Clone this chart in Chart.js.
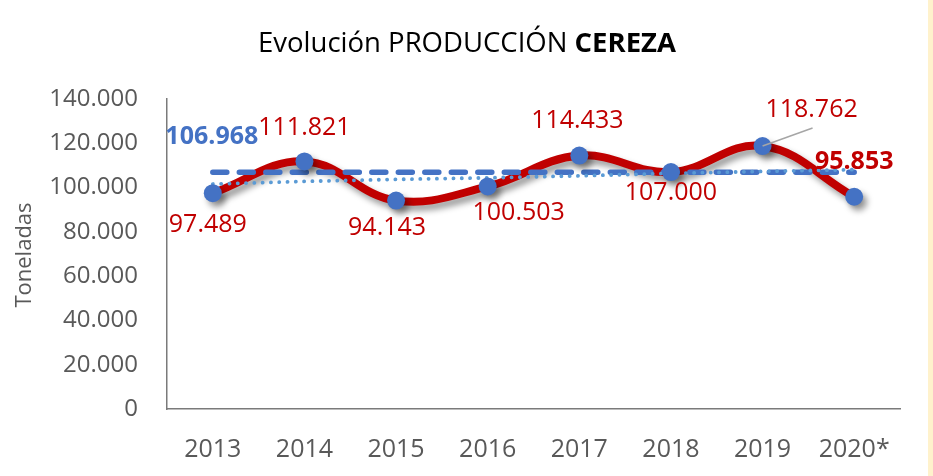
<!DOCTYPE html>
<html>
<head>
<meta charset="utf-8">
<title>Evolución producción cereza</title>
<script src="https://cdn.jsdelivr.net/npm/chart.js@4/dist/chart.umd.min.js"></script>
<style>
  body { margin: 0; background: #fff; }
  #wrap { position: relative; width: 933px; height: 476px; }
  #franja { position: absolute; left: 928px; top: 0; width: 5px; height: 476px; background: #fff2cc; }
</style>
</head>
<body>
<div id="wrap">
  <canvas id="grafico" width="928" height="476"></canvas>
  <div id="franja"></div>
</div>
<script>
// Años y toneladas producidas
const anios = ["2013", "2014", "2015", "2016", "2017", "2018", "2019", "2020*"];
const produccion = [97489, 111821, 94143, 100503, 114433, 107000, 118762, 95853];

// Promedio (línea discontinua) y tendencia (línea punteada)
const promedio = 106968;
const lineaPromedio = [106968, 106968, 106968, 106968, 106968, 106968, 106968, 106968];
const tendencia = [101600, 102800, 103700, 104400, 105300, 106400, 107300, 108100];

// Ticks del eje Y
const ticksY = [0, 20000, 40000, 60000, 80000, 100000, 120000, 140000];

// Desplazamiento de cada etiqueta respecto a su punto (px)
const desplazEtiquetas = [[-5, 30], [0, -35], [-9, 26], [31, 25], [-2, -37], [0, 19], [49, -38], [0, -37]];

const ROJO = "#C00000";
const AZUL = "#4472C4";
const AZUL_CLARO = "#5B9BD5";
const FUENTE = "'Open Sans', 'Noto Sans', sans-serif";

function formatoMiles(v) {
  return String(v).replace(/\B(?=(\d{3})+(?!\d))/g, ".");
}

// Sombra para la línea roja y los marcadores
const pluginSombra = {
  id: "sombra",
  beforeDatasetDraw(chart, args) {
    if (!args.meta._dataset.sombra) return;
    const ctx = chart.ctx;
    ctx.save();
    ctx.shadowColor = "rgba(0,0,0,0.4)";
    ctx.shadowBlur = 6;
    ctx.shadowOffsetX = 4;
    ctx.shadowOffsetY = 5;
  },
  afterDatasetDraw(chart, args) {
    if (!args.meta._dataset.sombra) return;
    chart.ctx.restore();
  }
};

// Título con la palabra CEREZA en negrita
const pluginTitulo = {
  id: "titulo",
  afterDraw(chart) {
    const ctx = chart.ctx;
    const parte1 = "Evolución PRODUCCIÓN ";
    const parte2 = "CEREZA";
    const t = 27.5;
    ctx.save();
    ctx.fillStyle = "#000";
    ctx.textBaseline = "alphabetic";
    ctx.font = t + "px " + FUENTE;
    const w1 = ctx.measureText(parte1).width;
    ctx.font = "bold " + t + "px " + FUENTE;
    const w2 = ctx.measureText(parte2).width;
    const x0 = 467 - (w1 + w2) / 2;
    ctx.font = t + "px " + FUENTE;
    ctx.fillText(parte1, x0, 52);
    ctx.font = "bold " + t + "px " + FUENTE;
    ctx.fillText(parte2, x0 + w1, 52);

    // Título del eje Y
    ctx.font = "22px " + FUENTE;
    ctx.fillStyle = "#595959";
    ctx.translate(25, 255);
    ctx.rotate(-Math.PI / 2);
    ctx.textAlign = "center";
    ctx.textBaseline = "middle";
    ctx.fillText("Toneladas", 0, 0);
    ctx.restore();
  }
};

// Etiquetas de valores, línea guía de 2019 y etiqueta del promedio
const pluginEtiquetas = {
  id: "etiquetas",
  afterDatasetsDraw(chart) {
    const ctx = chart.ctx;
    const puntos = chart.getDatasetMeta(3).data;
    const size = 25;
    ctx.save();
    ctx.textAlign = "center";
    ctx.textBaseline = "alphabetic";
    produccion.forEach((v, i) => {
      const p = puntos[i];
      const [dx, dy] = desplazEtiquetas[i];
      const ultimo = i === produccion.length - 1;
      ctx.font = (ultimo ? "bold " : "") + size + "px " + FUENTE;
      ctx.fillStyle = ROJO;
      ctx.fillText(formatoMiles(v), p.x + dx, p.y + dy + size * 0.357);
      if (i === 6) {
        ctx.strokeStyle = "#A6A6A6";
        ctx.lineWidth = 1.5;
        ctx.beginPath();
        ctx.moveTo(p.x, p.y);
        ctx.lineTo(p.x + dx + 1, p.y + dy + 20);
        ctx.stroke();
      }
    });
    const pm = chart.getDatasetMeta(1).data[0];
    ctx.font = "bold " + size + "px " + FUENTE;
    ctx.fillStyle = AZUL;
    ctx.fillText(formatoMiles(promedio), pm.x - 1, pm.y - 37 + size * 0.357);
    ctx.restore();
  }
};

new Chart(document.getElementById("grafico"), {
  type: "line",
  data: {
    labels: anios,
    datasets: [
      {
        label: "Producción",
        data: produccion,
        borderColor: ROJO,
        borderWidth: 8,
        tension: 0.4,
        pointRadius: 0,
        fill: false,
        sombra: true,
        order: 3
      },
      {
        label: "Promedio",
        data: lineaPromedio,
        borderColor: AZUL,
        borderWidth: 5.5,
        borderDash: [14, 12.5],
        borderCapStyle: "round",
        pointRadius: 0,
        fill: false,
        order: 2
      },
      {
        label: "Tendencia",
        data: tendencia,
        borderColor: AZUL_CLARO,
        borderWidth: 3.8,
        borderDash: [0.1, 8.2],
        borderCapStyle: "round",
        pointRadius: 0,
        fill: false,
        order: 1
      },
      {
        label: "Puntos",
        data: produccion,
        showLine: false,
        pointRadius: 9,
        pointBackgroundColor: AZUL,
        pointBorderWidth: 0,
        sombra: true,
        order: 0
      }
    ]
  },
  options: {
    responsive: false,
    animation: false,
    layout: { padding: { left: 0, right: 28, top: 99, bottom: 0 } },
    plugins: {
      legend: { display: false },
      title: { display: false },
      tooltip: { enabled: false }
    },
    scales: {
      x: {
        offset: true,
        grid: { display: false, drawTicks: false },
        border: { display: true, color: "#7a7a7a", width: 1.5 },
        ticks: { color: "#595959", font: { family: FUENTE, size: 25 }, padding: 26, maxRotation: 0 },
        afterFit(scale) { scale.height = 67; }
      },
      y: {
        min: 0,
        max: 140000,
        afterBuildTicks(scale) { scale.ticks = ticksY.map(v => ({ value: v })); },
        grid: { display: false, drawTicks: false },
        border: { display: true, color: "#7a7a7a", width: 1.5 },
        ticks: {
          color: "#595959",
          font: { family: FUENTE, size: 24 },
          padding: 29,
          callback: v => formatoMiles(v)
        },
        afterFit(scale) { scale.width = 167; }
      }
    }
  },
  plugins: [pluginSombra, pluginEtiquetas, pluginTitulo]
});
</script>
</body>
</html>
